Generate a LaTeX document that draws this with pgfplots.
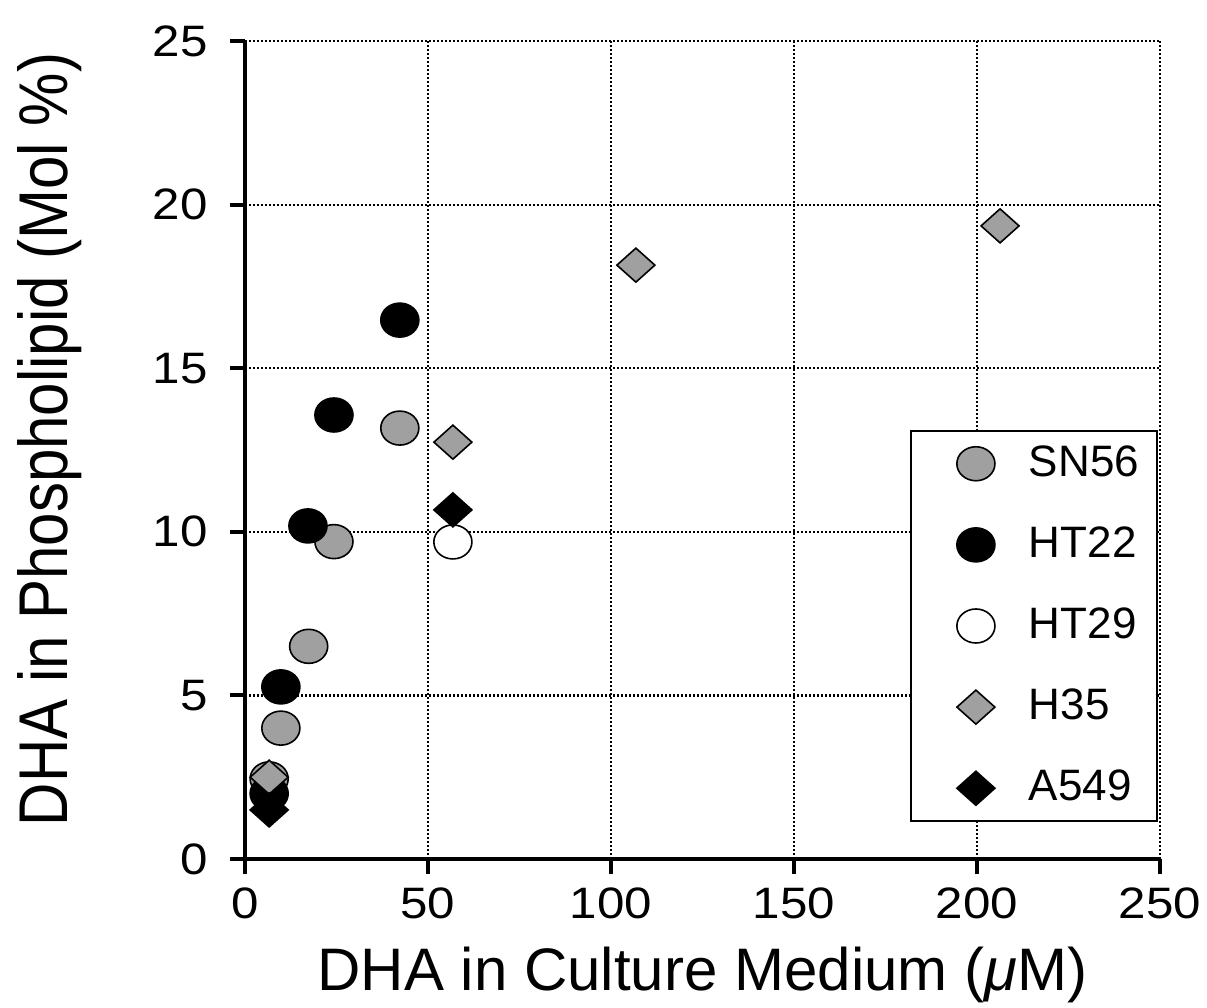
\documentclass[border=0pt]{standalone}
\usepackage{fontspec}
\setmainfont{Liberation Sans}
\usepackage{pgfplots}
\pgfplotsset{compat=1.18}
\definecolor{markgray}{RGB}{160,160,160}

\begin{document}
\begin{tikzpicture}
\begin{axis}[
    scale only axis,
    width=228.75pt, height=204.5pt,
    xmin=0, xmax=250, ymin=0, ymax=25,
    xtick={0,50,...,250}, ytick={0,5,...,25},
    axis x line*=bottom, axis y line*=left,
    axis line style={line width=1pt},
    tick style={line width=1pt, black},
    tick align=outside,
    major tick length=3.75pt,
    grid=major,
    major grid style={black, line width=0.55pt, dash pattern=on 0.5pt off 0.5pt},
    tick label style={font=\fontsize{11}{13}\selectfont, xscale=1.12},
    yticklabel style={xshift=-1.5pt},
    /pgf/number format/assume math mode=true,
    xlabel={DHA in Culture Medium (\textit{μ}M)},
    ylabel={DHA in Phospholipid (Mol \%)},
    label style={font=\fontsize{15}{18}\selectfont},
    xlabel style={at={(axis description cs:0.5,-0.142)}, anchor=center},
    ylabel style={at={(axis description cs:-0.213,0.513)}, anchor=center, yscale=1.15},
    every axis plot/.append style={line width=0.4pt},
    legend style={at={(0.998,0.045)}, anchor=south east, draw=black,
        line width=0.6pt, font=\fontsize{11}{13}\selectfont,
        inner xsep=4.5pt, inner ysep=3.6pt, row sep=11.1pt, column sep=0pt,
        nodes={inner sep=0pt}},
    legend cell align=left,
    legend image code/.code={
        \path[draw=none, fill=none] (-11.75pt,0pt) (13.25pt,0pt);
        \draw[#1] plot coordinates {(0pt,0pt)};
    },
]
\coordinate (o) at (rel axis cs:0,0);

\addplot[only marks, mark=*, mark size=4.25pt,
    mark options={xscale=1.12, fill=markgray, draw=black}]
    coordinates {(6.6,2.45) (9.8,4.0) (17.4,6.5) (24.3,9.7) (42.3,13.17)};
\addlegendentry{SN56}

\addplot[only marks, mark=*, mark size=4.25pt,
    mark options={xscale=1.12, fill=black, draw=black}]
    coordinates {(6.6,2.0) (9.8,5.26) (17.2,10.18) (24.3,13.57) (42.3,16.47)};
\addlegendentry{HT22}

\addplot[only marks, mark=*, mark size=4.25pt,
    mark options={xscale=1.12, fill=white, draw=black}]
    coordinates {(56.8,9.69)};
\addlegendentry{HT29}

\addplot[only marks, mark=diamond*, mark size=4.25pt,
    mark options={xscale=1.49, fill=markgray, draw=black}]
    coordinates {(6.6,2.5) (56.8,12.74) (106.8,18.15) (206.3,19.35)};
\addlegendentry{H35}

\addplot[only marks, mark=diamond*, mark size=4.25pt,
    mark options={xscale=1.49, fill=black, draw=black}]
    coordinates {(6.6,1.5) (56.8,10.67)};
\addlegendentry{A549}
\end{axis}
\pgfresetboundingbox
\path[use as bounding box] (o) ++(-61.25pt,-37pt) rectangle ++(301.75pt,251.75pt);
\end{tikzpicture}
\end{document}
